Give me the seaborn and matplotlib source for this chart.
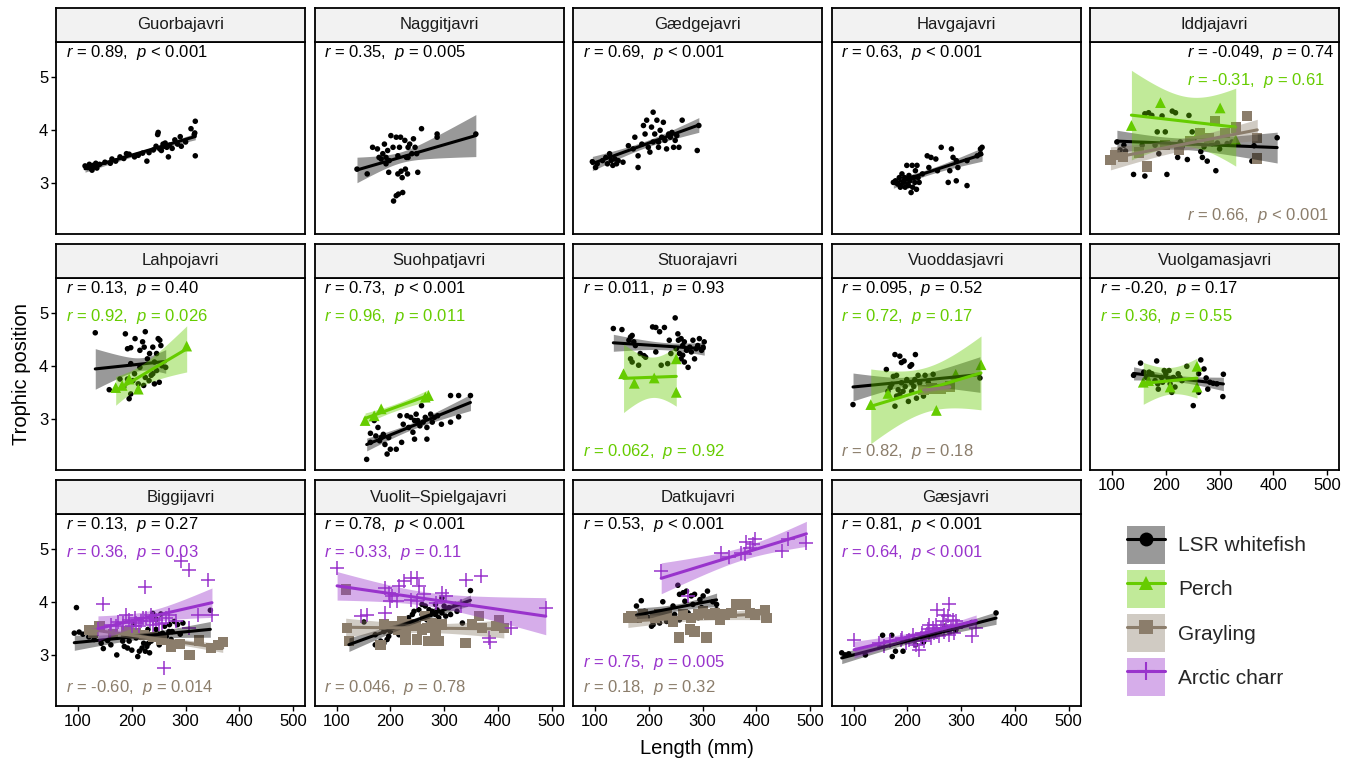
import numpy as np
import pandas as pd
import seaborn as sns
import matplotlib.pyplot as plt
from matplotlib.patches import Patch
from matplotlib.lines import Line2D
from matplotlib.legend_handler import HandlerTuple

# (length mm, trophic position), one list per lake and species
GUO_WF = [(113,3.33),(118,3.30),(121,3.36),(124,3.28),(126,3.25),(128,3.34),(130,3.31),(133,3.38),(135,3.29),(140,3.36),
          (150,3.40),(160,3.38),(163,3.46),(170,3.42),(178,3.50),(185,3.47),(190,3.56),(195,3.55),(205,3.50),(212,3.53),
          (220,3.57),(228,3.42),(232,3.58),(240,3.63),(245,3.70),(248,3.92),(249,3.96),(252,3.65),(255,3.62),(258,3.74),
          (260,3.70),(262,3.76),(265,3.68),(268,3.50),(270,3.72),(275,3.66),(280,3.82),(285,3.74),(290,3.88),(292,3.70),
          (300,3.78),(310,4.03),(316,3.92),(318,4.17),(318,3.52),(317,3.95)]
NAG_WF = [(138,3.27),(157,3.18),(167,3.68),(176,3.65),(179,3.49),(183,3.46),(186,3.56),(189,3.74),(192,3.49),(192,3.37),
          (195,3.62),(197,3.21),(198,3.43),(201,3.90),(205,3.68),(206,2.67),(211,2.77),(211,3.87),(214,3.52),(214,3.18),
          (215,2.80),(217,3.68),(219,3.87),(220,3.23),(222,3.11),(223,2.83),(227,3.81),(228,3.27),(230,3.49),(232,3.18),
          (233,3.68),(233,3.49),(236,3.74),(240,3.56),(243,3.84),(246,3.68),(249,3.56),(251,3.21),(258,4.03),(287,3.93),
          (287,3.87),(359,3.93)]
GAED_WF = [(95,3.41),(101,3.30),(104,3.37),(114,3.43),(120,3.49),(123,3.37),(127,3.56),(130,3.43),(133,3.34),(137,3.46),
           (140,3.37),(143,3.43),(152,3.40),(162,3.71),(171,3.65),(174,3.87),(180,3.30),(180,3.52),(187,3.74),(190,4.09),
           (193,3.93),(196,4.19),(199,3.68),(202,3.59),(205,4.06),(208,4.34),(208,3.78),(211,3.93),(215,4.19),(218,3.68),
           (218,3.78),(221,4.00),(224,3.87),(227,4.15),(230,3.81),(233,3.65),(237,3.93),(240,3.87),(243,3.96),(246,3.68),
           (249,3.81),(252,3.90),(256,3.68),(262,4.19),(290,3.62),(293,4.09)]
HAV_WF = [(174,3.02),(178,3.05),(182,2.99),(185,3.11),(188,2.96),(190,3.18),(193,3.02),(196,2.93),(197,3.08),(199,3.34),
          (201,2.99),(203,3.15),(205,3.05),(207,2.83),(209,3.34),(210,2.93),(212,3.11),(214,3.02),(215,3.24),(217,2.89),
          (218,3.34),(220,3.11),(222,3.02),(228,3.18),(237,3.52),(240,3.30),(244,3.49),(253,3.46),(256,3.24),(263,3.68),
          (279,3.24),(282,3.65),(285,3.49),(291,3.43),(294,3.30),(276,3.02),(291,3.05),(311,2.96),(311,3.43),(330,3.52),
          (336,3.56),(339,3.68),(336,3.65),(187,2.93),(195,3.11),(202,2.96)]
IDD_WF = [(109,3.78),(115,3.63),(122,3.72),(125,3.61),(140,3.17),(161,3.14),(161,4.31),(168,4.33),(174,4.28),(184,3.97),
          (187,3.56),(193,4.27),(199,3.97),(202,3.17),(212,4.36),(218,4.33),(222,3.49),(240,3.45),(243,4.28),(268,3.49),
          (277,3.42),(293,3.24),(296,3.76),(249,3.97),(286,3.75),(360,3.42),(364,3.71),(407,3.86),(323,3.78),(156,3.72),
          (180,3.72),(205,3.75),(230,3.69),(255,3.78),(271,3.69),(227,3.78),(314,3.75),(150,3.60),(265,3.60),(300,3.65)]
IDD_PERCH = [(136,4.09),(190,4.52),(260,3.95),(301,4.42),(330,3.82)]
IDD_GRAY = [(97,3.44),(105,3.54),(165,3.32),(199,3.72),(224,3.63),(245,3.80),(264,3.94),(280,3.85),(291,4.18),(310,3.95),
            (351,4.27),(370,3.86),(370,3.47),(120,3.50),(150,3.58),(330,4.05)]
LAH_WF = [(132,4.63),(158,3.56),(188,4.61),(192,4.33),(198,4.35),(206,4.52),(215,4.30),(220,4.46),(223,4.36),(225,4.65),
          (229,4.14),(233,4.24),(239,4.36),(246,4.24),(249,4.52),(252,4.49),(254,4.39),(242,4.08),(263,3.98),(198,4.05),
          (178,3.76),(185,3.61),(195,3.39),(198,3.48),(205,3.86),(212,3.67),(222,3.64),(225,3.79),(232,3.73),(236,3.83),
          (239,3.86),(242,3.67),(251,3.70),(246,3.92),(192,3.76),(202,3.73),(215,3.98),(256,4.01)]
LAH_PERCH = [(170,3.60),(182,3.64),(195,3.76),(212,3.57),(302,4.38)]
SUO_WF = [(156,2.25),(163,2.74),(163,2.57),(170,2.98),(173,2.69),(177,2.85),(180,2.60),(183,2.66),(187,2.72),(190,2.53),
          (194,2.35),(197,2.66),(200,2.44),(211,2.44),(221,2.57),(218,3.07),(224,2.91),(231,3.07),(234,2.85),(245,2.63),
          (248,3.10),(251,2.98),(255,2.88),(258,3.26),(261,2.95),(265,3.04),(268,2.63),(268,2.85),(275,3.10),(278,2.95),
          (282,3.04),(288,3.07),(295,2.91),(312,2.95),(312,3.45),(327,3.45),(327,3.05),(349,3.45),(245,2.98),(242,2.76),
          (238,3.04)]
SUO_PERCH = [(153,2.98),(170,3.07),(183,3.20),(265,3.42),(271,3.45)]
STU_WF = [(134,4.71),(150,4.69),(163,4.49),(166,4.55),(169,4.58),(172,4.46),(175,4.39),(166,4.14),(169,4.08),(181,4.02),
          (184,4.24),(191,4.20),(194,4.17),(207,4.74),(213,4.73),(220,4.65),(229,4.73),(213,4.27),(223,4.02),(235,4.05),
          (238,4.49),(241,4.24),(249,4.91),(254,4.61),(255,4.49),(260,4.52),(263,4.39),(266,4.46),(270,4.30),(260,4.14),
          (266,4.08),(273,3.98),(257,4.24),(276,4.36),(282,4.49),(285,4.14),(288,4.33),(291,4.39),(294,4.52),(298,4.30),
          (301,4.36),(303,4.46),(263,4.21),(279,4.27),(251,4.33)]
STU_PERCH = [(153,3.86),(173,3.68),(210,3.78),(251,4.14),(251,3.51)]
VUD_WF = [(99,3.28),(177,4.22),(186,4.19),(189,4.07),(194,4.10),(205,4.00),(215,4.22),(208,4.03),(161,3.94),(174,3.81),
          (180,3.83),(220,3.83),(233,3.83),(248,3.85),(164,3.53),(177,3.25),(180,3.44),(192,3.53),(202,3.34),(208,3.53),
          (217,3.40),(230,3.44),(208,3.69),(223,3.69),(199,3.75),(189,3.69),(171,3.66),(239,3.69),(214,3.75),(183,3.56),
          (335,3.78),(168,3.60),(196,3.62),(226,3.58),(242,3.55),(186,3.47),(212,3.62)]
VUD_PERCH = [(132,3.28),(164,3.49),(254,3.17),(290,3.85),(337,4.03)]
VUD_GRAY = [(230,3.55),(245,3.58),(262,3.57),(279,3.62)]
VUO_WF = [(140,3.83),(153,4.06),(159,3.89),(183,4.10),(164,3.79),(174,3.86),(180,3.73),(186,3.57),(192,3.79),(197,3.92),
          (200,3.86),(205,3.76),(208,3.67),(214,3.79),(217,3.61),(223,3.86),(226,3.79),(230,3.73),(239,4.00),(251,3.26),
          (261,3.86),(265,4.12),(271,3.95),(261,3.51),(275,3.78),(278,3.57),(282,3.70),(288,3.68),(295,3.67),(307,3.85),
          (306,3.43),(185,3.67),(194,3.70),(169,3.89),(211,3.51),(206,3.92)]
VUO_PERCH = [(158,3.70),(168,3.73),(208,3.61),(258,4.00),(258,3.61)]
BIG_WF = [(97,3.90),(93,3.42),(102,3.44),(109,3.40),(143,3.23),(147,3.13),(161,3.20),(172,3.01),(183,3.27),(186,3.17),
          (192,3.14),(195,3.27),(203,3.58),(207,3.45),(211,2.98),(214,3.08),(219,3.14),(222,3.23),(225,3.08),(228,3.17),
          (231,3.23),(236,3.27),(239,3.79),(242,3.39),(245,3.49),(248,3.30),(251,3.20),(254,3.78),(257,3.42),(261,3.55),
          (264,3.36),(269,3.45),(273,3.30),(279,3.64),(285,3.58),(295,3.61),(346,3.85),(208,3.33),(217,3.34),(230,3.49),
          (245,3.68),(270,3.58),(120,3.35),(130,3.30),(155,3.28),(200,3.10),(215,3.38),(233,3.05),(250,3.40),(260,3.25),
          (275,3.45),(290,3.40)]
BIG_CHARR = [(137,3.49),(147,3.96),(161,3.58),(171,3.55),(183,3.61),(190,3.77),(194,3.66),(205,3.71),(208,3.61),(214,3.55),
             (217,3.64),(225,4.29),(226,3.71),(233,3.64),(236,3.77),(239,3.58),(245,3.66),(251,3.59),(257,3.61),(259,2.77),
             (264,3.71),(270,3.77),(282,3.64),(292,4.78),(306,4.60),(307,3.52),(323,3.77),(341,4.41),(349,3.76),(160,3.45),
             (200,3.55),(220,3.70),(240,3.68),(175,3.62)]
BIG_GRAY = [(120,3.48),(128,3.42),(140,3.55),(165,3.40),(190,3.45),(208,3.42),(222,3.38),(240,3.35),(255,3.30),(273,3.17),
            (290,3.22),(307,3.01),(325,3.28),(347,3.14),(360,3.20),(369,3.25)]
VSP_WF = [(123,3.23),(151,3.63),(172,3.39),(182,3.27),(188,3.45),(197,3.36),(244,3.83),(259,3.96),(265,3.93),(272,3.86),
          (278,3.83),(284,3.77),(290,3.71),(296,3.80),(303,3.74),(309,3.90),(321,3.96),(334,3.61),(349,4.22),(296,4.08),
          (284,3.96),(234,3.71),(228,3.64),(216,3.39),(200,3.45),(194,3.30),(188,3.23),(172,3.20),(278,3.64),(290,3.64),
          (259,3.77),(268,3.67),(241,3.77),(253,3.86),(287,3.86),(300,3.93),(312,3.77),(324,3.83),(275,3.77),(225,3.49)]
VSP_CHARR = [(101,4.65),(191,4.27),(197,4.18),(216,4.31),(225,4.40),(238,4.46),(250,4.46),(253,4.31),(262,4.15),(200,4.02),
             (213,4.02),(204,4.12),(296,4.18),(303,4.12),(341,4.41),(368,4.49),(145,3.74),(157,3.77),(191,3.80),(238,4.05),
             (250,4.02),(383,3.33),(386,3.26),(424,3.52),(489,3.90),(284,3.99),(331,3.93)]
VSP_GRAY = [(120,3.52),(117,4.24),(365,3.74),(402,3.67),(123,3.27),(188,3.58),(182,3.20),(222,3.64),(215,3.49),(228,3.30),
            (250,3.30),(265,3.74),(268,3.52),(271,3.27),(290,3.27),(284,3.45),(296,3.58),(340,3.23),(352,3.58),(371,3.52),
            (396,3.55),(411,3.52),(234,3.58),(259,3.49),(247,3.55),(278,3.61),(204,3.55),(228,3.45)]
DAT_WF = [(254,4.32),(186,4.03),(177,3.93),(192,3.83),(226,4.01),(245,3.93),(257,4.15),(264,4.18),(270,4.21),(279,4.12),
          (285,4.15),(295,4.05),(301,4.12),(309,4.21),(319,4.01),(267,4.02),(282,3.96),(298,3.90),(199,3.71),(205,3.55),
          (208,3.58),(220,3.61),(226,3.77),(239,3.74),(248,3.77),(257,3.67),(214,3.77),(233,3.64),(273,3.80),(292,3.71),
          (307,3.83),(326,3.86),(326,3.96),(183,3.77)]
DAT_CHARR = [(223,4.59),(335,4.92),(350,4.85),(372,4.92),(381,5.14),(397,5.19),(388,5.03),(378,4.90),(447,4.97),(459,5.19),
             (493,5.12),(394,5.09),(273,4.12)]
DAT_GRAY = [(161,3.71),(168,3.74),(177,3.71),(189,3.77),(211,3.71),(233,3.77),(245,3.64),(256,3.34),(276,3.49),(285,3.45),
            (307,3.34),(264,3.77),(279,3.71),(292,3.77),(313,3.77),(332,3.67),(341,3.77),(354,3.80),(363,3.96),(381,3.96),
            (388,3.80),(397,3.77),(416,3.86),(419,3.71),(220,3.77),(301,3.83),(323,3.80)]
GAE_WF = [(78,3.05),(84,3.01),(91,3.03),(122,3.01),(154,3.38),(171,3.38),(172,2.98),(178,3.08),(192,3.08),(365,3.80),
          (215,3.20),(240,3.35),(260,3.45),(280,3.50),(300,3.55),(320,3.62),(250,3.38),(230,3.25),(270,3.55),(290,3.48)]
GAE_CHARR = [(101,3.30),(148,3.23),(157,3.17),(168,3.27),(188,3.30),(197,3.23),(204,3.30),(210,3.39),(216,3.20),(222,3.11),
             (225,3.33),(231,3.27),(235,3.39),(238,3.49),(244,3.33),(247,3.52),(250,3.42),(253,3.58),(256,3.86),(259,3.36),
             (262,3.52),(266,3.64),(269,3.45),(272,3.58),(275,3.74),(278,3.96),(281,3.52),(284,3.67),(287,3.42),(290,3.64),
             (293,3.55),(321,3.36),(328,3.52),(241,3.58),(213,3.27),(191,3.33),(228,3.42),(256,3.45),(278,3.39),(269,3.77)]

LAKES = ["Guorbajavri", "Naggitjavri", "Gædgejavri", "Havgajavri", "Iddjajavri",
         "Lahpojavri", "Suohpatjavri", "Stuorajavri", "Vuoddasjavri", "Vuolgamasjavri",
         "Biggijavri", "Vuolit–Spielgajavri", "Datkujavri", "Gæsjavri"]
SPECIES = ["LSR whitefish", "Perch", "Grayling", "Arctic charr"]

POINTS = {
    "Guorbajavri": {"LSR whitefish": GUO_WF},
    "Naggitjavri": {"LSR whitefish": NAG_WF},
    "Gædgejavri": {"LSR whitefish": GAED_WF},
    "Havgajavri": {"LSR whitefish": HAV_WF},
    "Iddjajavri": {"LSR whitefish": IDD_WF, "Perch": IDD_PERCH, "Grayling": IDD_GRAY},
    "Lahpojavri": {"LSR whitefish": LAH_WF, "Perch": LAH_PERCH},
    "Suohpatjavri": {"LSR whitefish": SUO_WF, "Perch": SUO_PERCH},
    "Stuorajavri": {"LSR whitefish": STU_WF, "Perch": STU_PERCH},
    "Vuoddasjavri": {"LSR whitefish": VUD_WF, "Perch": VUD_PERCH, "Grayling": VUD_GRAY},
    "Vuolgamasjavri": {"LSR whitefish": VUO_WF, "Perch": VUO_PERCH},
    "Biggijavri": {"LSR whitefish": BIG_WF, "Grayling": BIG_GRAY, "Arctic charr": BIG_CHARR},
    "Vuolit–Spielgajavri": {"LSR whitefish": VSP_WF, "Grayling": VSP_GRAY, "Arctic charr": VSP_CHARR},
    "Datkujavri": {"LSR whitefish": DAT_WF, "Grayling": DAT_GRAY, "Arctic charr": DAT_CHARR},
    "Gæsjavri": {"LSR whitefish": GAE_WF, "Arctic charr": GAE_CHARR},
}

# correlation labels: species, r, p, slot
STATS = {
    "Guorbajavri": [("LSR whitefish", "0.89", "< 0.001", "top1")],
    "Naggitjavri": [("LSR whitefish", "0.35", "= 0.005", "top1")],
    "Gædgejavri": [("LSR whitefish", "0.69", "< 0.001", "top1")],
    "Havgajavri": [("LSR whitefish", "0.63", "< 0.001", "top1")],
    "Iddjajavri": [("LSR whitefish", "-0.049", "= 0.74", "top1"), ("Perch", "-0.31", "= 0.61", "top2"),
                   ("Grayling", "0.66", "< 0.001", "bot1")],
    "Lahpojavri": [("LSR whitefish", "0.13", "= 0.40", "top1"), ("Perch", "0.92", "= 0.026", "top2")],
    "Suohpatjavri": [("LSR whitefish", "0.73", "< 0.001", "top1"), ("Perch", "0.96", "= 0.011", "top2")],
    "Stuorajavri": [("LSR whitefish", "0.011", "= 0.93", "top1"), ("Perch", "0.062", "= 0.92", "bot1")],
    "Vuoddasjavri": [("LSR whitefish", "0.095", "= 0.52", "top1"), ("Perch", "0.72", "= 0.17", "top2"),
                     ("Grayling", "0.82", "= 0.18", "bot1")],
    "Vuolgamasjavri": [("LSR whitefish", "-0.20", "= 0.17", "top1"), ("Perch", "0.36", "= 0.55", "top2")],
    "Biggijavri": [("LSR whitefish", "0.13", "= 0.27", "top1"), ("Arctic charr", "0.36", "= 0.03", "top2"),
                   ("Grayling", "-0.60", "= 0.014", "bot1")],
    "Vuolit–Spielgajavri": [("LSR whitefish", "0.78", "< 0.001", "top1"), ("Arctic charr", "-0.33", "= 0.11", "top2"),
                            ("Grayling", "0.046", "= 0.78", "bot1")],
    "Datkujavri": [("LSR whitefish", "0.53", "< 0.001", "top1"), ("Arctic charr", "0.75", "= 0.005", "bot2"),
                   ("Grayling", "0.18", "= 0.32", "bot1")],
    "Gæsjavri": [("LSR whitefish", "0.81", "< 0.001", "top1"), ("Arctic charr", "0.64", "< 0.001", "top2")],
}

COLORS = {"LSR whitefish": "#000000", "Perch": "#66CC00", "Grayling": "#8B7D6B", "Arctic charr": "#9933CC"}
MARKERS = {"LSR whitefish": "o", "Perch": "^", "Grayling": "s", "Arctic charr": "+"}
SIZES = {"LSR whitefish": 16, "Perch": 60, "Grayling": 55, "Arctic charr": 110}
SLOT_Y = {"top1": 0.943, "top2": 0.80, "bot2": 0.229, "bot1": 0.094}

rows = []
for lake, groups in POINTS.items():
    for sp, pts in groups.items():
        for length, tp in pts:
            rows.append((lake, sp, length, tp))
df = pd.DataFrame(rows, columns=["lake", "species", "length", "tp"])


def t975(nu):
    # Cornish-Fisher approximation of the 97.5% t quantile (no scipy needed)
    z = 1.959964
    return (z + (z**3 + z) / (4 * nu) + (5 * z**5 + 16 * z**3 + 3 * z) / (96 * nu**2)
            + (3 * z**7 + 19 * z**5 + 17 * z**3 - 15 * z) / (384 * nu**3))


def lm_band(x, y, grid):
    # 95% confidence band of an OLS line, like geom_smooth(method = "lm")
    n = len(x)
    b1, b0 = np.polyfit(x, y, 1)
    resid = y - (b0 + b1 * x)
    s = np.sqrt(np.sum(resid**2) / (n - 2))
    se = s * np.sqrt(1 / n + (grid - x.mean())**2 / np.sum((x - x.mean())**2))
    fit = b0 + b1 * grid
    t = t975(n - 2)
    return fit - t * se, fit + t * se


sns.set_theme(style="white")
plt.rcParams["font.family"] = ["Liberation Sans", "DejaVu Sans"]
plt.rcParams["mathtext.fontset"] = "custom"
plt.rcParams["mathtext.it"] = "Liberation Sans:italic"
plt.rcParams["mathtext.rm"] = "Liberation Sans"

W, H = 1357, 761
fig = plt.figure(figsize=(W / 100, H / 100), dpi=100)

def px_axes(left, top, width, height):
    return fig.add_axes([left / W, 1 - (top + height) / H, width / W, height / H])

for i, lake in enumerate(LAKES):
    r, c = divmod(i, 5)
    left = 56 + c * 258.5
    top = 42 + r * 236
    ax = px_axes(left, top, 249, 192)
    sub = df[df.lake == lake]

    for sp in SPECIES:
        d = sub[sub.species == sp]
        if d.empty:
            continue
        kw = dict(linewidth=1.1) if sp == "Arctic charr" else dict(linewidth=0, edgecolor="none")
        sns.scatterplot(data=d, x="length", y="tp", ax=ax, color=COLORS[sp], marker=MARKERS[sp],
                        s=SIZES[sp], zorder=2, legend=False, **kw)

    for k, sp in enumerate(SPECIES):
        d = sub[sub.species == sp]
        if d.empty:
            continue
        x = d["length"].to_numpy(float)
        y = d["tp"].to_numpy(float)
        grid = np.linspace(x.min(), x.max(), 100)
        lo, hi = lm_band(x, y, grid)
        ax.fill_between(grid, lo, hi, color=COLORS[sp], alpha=0.4, linewidth=0, zorder=3 + k * 0.1)
        sns.regplot(data=d, x="length", y="tp", ax=ax, scatter=False, color=COLORS[sp], ci=None,
                    truncate=True, line_kws=dict(linewidth=2.2, zorder=3.05 + k * 0.1))

    for sp, rv, pv, slot in STATS[lake]:
        x0 = 0.39 if lake == "Iddjajavri" else 0.04
        ax.text(x0, SLOT_Y[slot], f"$r$ = {rv},  $p$ {pv}", transform=ax.transAxes,
                ha="left", va="center", fontsize=12, color=COLORS[sp], zorder=5)

    ax.set_xlim(59, 522)
    ax.set_ylim(2.05, 5.66)
    ax.set_xticks([100, 200, 300, 400, 500])
    ax.set_yticks([3, 4, 5])
    ax.set_xlabel("")
    ax.set_ylabel("")
    for s in ax.spines.values():
        s.set_color("black")
        s.set_linewidth(1.3)
    show_x = r == 2 or lake == "Vuolgamasjavri"
    ax.tick_params(axis="x", bottom=show_x, labelbottom=show_x, direction="out", length=3.5,
                   width=1, labelsize=12, pad=2, color="black", labelcolor="black")
    ax.tick_params(axis="y", left=(c == 0), labelleft=(c == 0), direction="out", length=3.5,
                   width=1, labelsize=12, pad=2, color="black", labelcolor="black")

    sax = px_axes(left, top - 34, 249, 34)
    sax.set_facecolor("#F2F2F2")
    sax.set_xticks([])
    sax.set_yticks([])
    for s in sax.spines.values():
        s.set_color("black")
        s.set_linewidth(1.3)
    sax.text(0.5, 0.5, lake, ha="center", va="center", fontsize=12, color="#1A1A1A")

fig.text(697 / W, 1 - 749 / H, "Length (mm)", ha="center", va="center", fontsize=14.5, color="black")
fig.text(22 / W, 1 - 374 / H, "Trophic position", ha="center", va="center", rotation=90,
         fontsize=14.5, color="black")

handles = []
for sp in SPECIES:
    band = Patch(facecolor=COLORS[sp], alpha=0.4, edgecolor="none")
    mk = dict(marker=MARKERS[sp], markersize=10 if sp != "Arctic charr" else 13,
              markeredgewidth=0 if sp != "Arctic charr" else 1.5)
    line = Line2D([], [], color=COLORS[sp], linewidth=2.2, **mk)
    handles.append((band, line))
fig.legend(handles, SPECIES, loc="upper left", bbox_to_anchor=(1127 / W, 1 - 526 / H),
           frameon=False, fontsize=15, handlelength=1.83, handleheight=2.43, labelspacing=0.29,
           handletextpad=0.62, borderpad=0, borderaxespad=0, numpoints=1,
           handler_map={tuple: HandlerTuple(ndivide=1, pad=0)})

fig.savefig("out.png", dpi=100)
